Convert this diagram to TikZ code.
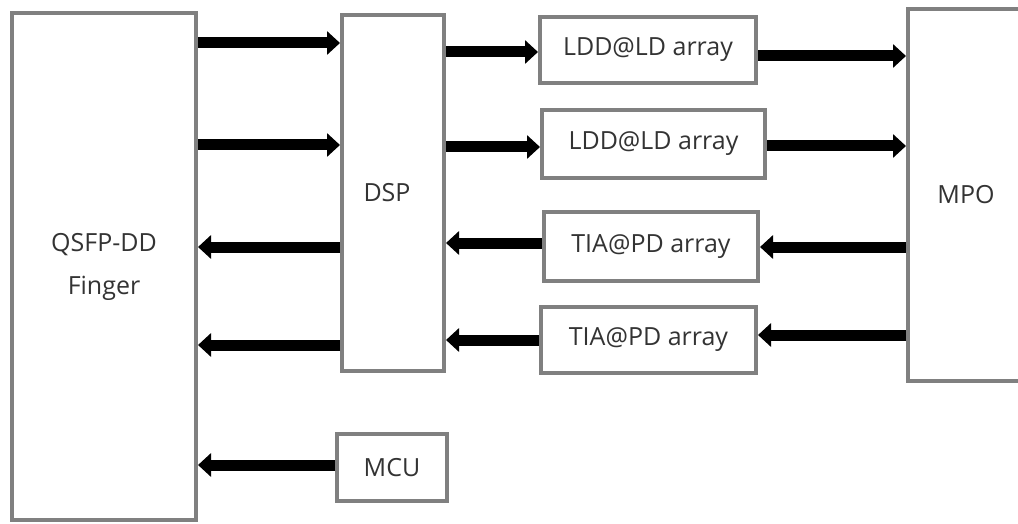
\documentclass[tikz,border=0pt]{standalone}
\usepackage{fontspec}
\setmainfont{Open Sans}
\usetikzlibrary{arrows.meta}
\definecolor{boxgray}{HTML}{808080}
\definecolor{txtgray}{HTML}{333333}
\begin{document}
\begin{tikzpicture}[x=1pt,y=-1pt,
  box/.style={draw=boxgray, line width=4pt, fill=white, text=txtgray,
    font=\fontsize{25}{43}\selectfont, inner sep=0pt, align=center},
  bigarrow/.style={line width=11pt, black, -{Triangle[length=13pt,width=23pt]}}]
\useasboundingbox (0,0) rectangle (1018,524);
\clip (0,0) rectangle (1018,524);
% boxes
\node[box, minimum width=184pt, minimum height=507pt] (qsfp) at (104,266.5) {\raisebox{-6pt}{QSFP-DD}\\\raisebox{-6pt}{Finger}};
\node[box, minimum width=102pt, minimum height=356pt] (dsp) at (393,193) {DSP\hspace*{12pt}};
\node[box, minimum width=110pt, minimum height=67pt] (mcu) at (392,467.5) {MCU};
\node[box, minimum width=216pt, minimum height=66pt] (ldd1) at (648,50) {LDD@LD array};
\node[box, minimum width=223pt, minimum height=68pt] (ldd2) at (653.5,144) {LDD@LD array};
\node[box, minimum width=214pt, minimum height=69pt] (tia1) at (651,246.5) {TIA@PD array};
\node[box, minimum width=215pt, minimum height=66pt] (tia2) at (648.5,340) {TIA@PD array};
\node[box, minimum width=116pt, minimum height=372pt] (mpo) at (966,195) {MPO};
% arrows QSFP <-> DSP / MCU
\draw[bigarrow] (qsfp.east |- 0,43) -- (dsp.west |- 0,43);
\draw[bigarrow] (qsfp.east |- 0,145) -- (dsp.west |- 0,145);
\draw[bigarrow] (dsp.west |- 0,247) -- (qsfp.east |- 0,247);
\draw[bigarrow] (dsp.west |- 0,345) -- (qsfp.east |- 0,345);
\draw[bigarrow] (mcu.west |- 0,465) -- (qsfp.east |- 0,465);
% DSP <-> arrays
\draw[bigarrow] (dsp.east |- 0,52) -- (ldd1.west |- 0,52);
\draw[bigarrow] (dsp.east |- 0,147) -- (ldd2.west |- 0,147);
\draw[bigarrow] (tia1.west |- 0,243) -- (dsp.east |- 0,243);
\draw[bigarrow] (tia2.west |- 0,340) -- (dsp.east |- 0,340);
% arrays <-> MPO
\draw[bigarrow] (ldd1.east |- 0,56) -- (mpo.west |- 0,56);
\draw[bigarrow] (ldd2.east |- 0,146) -- (mpo.west |- 0,146);
\draw[bigarrow] (mpo.west |- 0,247) -- (tia1.east |- 0,247);
\draw[bigarrow] (mpo.west |- 0,335) -- (tia2.east |- 0,335);
\end{tikzpicture}
\end{document}
